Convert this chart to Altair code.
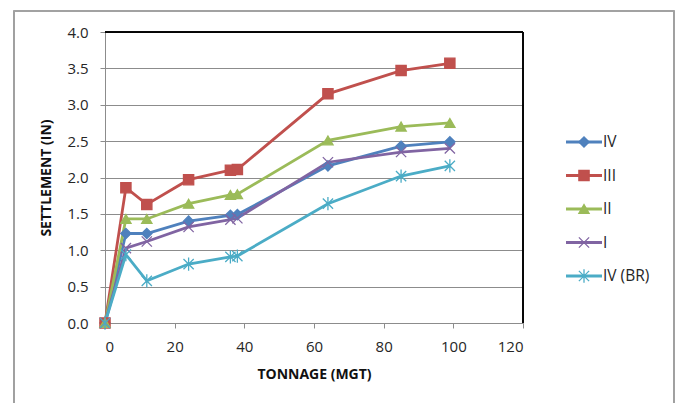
import altair as alt
import pandas as pd

# ---- data ----
tonnage = [0, 6, 12, 24, 36, 38, 64, 85, 99]
series_names = ["IV", "III", "II", "I", "IV (BR)"]
s_iv = [0, 1.23, 1.23, 1.40, 1.48, 1.49, 2.16, 2.43, 2.49]
s_iii = [0, 1.86, 1.63, 1.97, 2.10, 2.11, 3.15, 3.47, 3.57]
s_ii = [0, 1.43, 1.43, 1.64, 1.76, 1.77, 2.51, 2.70, 2.75]
s_i = [0, 1.03, 1.12, 1.32, 1.42, 1.44, 2.21, 2.35, 2.40]
s_iv_br = [0, 0.94, 0.58, 0.81, 0.91, 0.92, 1.64, 2.02, 2.16]
x_ticks = [0, 20, 40, 60, 80, 100, 120]
y_ticks = [0, 0.5, 1.0, 1.5, 2.0, 2.5, 3.0, 3.5, 4.0]

colors = ["#4F81BD", "#C0504D", "#9BBB59", "#8064A2", "#4BACC6"]
shapes = ["diamond", "square", "triangle-up",
          "M-1,-1L1,1M-1,1L1,-1",
          "M-1,-1L1,1M-1,1L1,-1M0,-1.3L0,1.3"]

values = [s_iv, s_iii, s_ii, s_i, s_iv_br]
rows = []
for name, vals in zip(series_names, values):
    for t, v in zip(tonnage, vals):
        rows.append({"series": name, "tonnage": t, "settlement": v})
df = pd.DataFrame(rows)
legend_df = pd.DataFrame({"series": series_names})

FONT = "Open Sans"
GRID = "#8c8c8c"

color_scale = alt.Scale(domain=series_names, range=colors)
shape_scale = alt.Scale(domain=series_names, range=shapes)
x_scale = alt.Scale(domain=[0, 120], nice=False)
y_scale = alt.Scale(domain=[0, 4], nice=False)

x_axis = alt.Axis(values=x_ticks, format="d", grid=False, tickCount=7,
                  title="TONNAGE (MGT)", titlePadding=13,
                  labelPadding=11, tickSize=5)
y_axis = alt.Axis(values=y_ticks, format=".1f", grid=True, tickCount=9,
                  title="SETTLEMENT (IN)", titlePadding=13,
                  labelPadding=12, tickSize=5, labelOverlap=False)

x_enc = alt.X("tonnage:Q", scale=x_scale, axis=x_axis)
y_enc = alt.Y("settlement:Q", scale=y_scale, axis=y_axis)

base = alt.Chart(df)

frame = alt.Chart(legend_df).mark_rect(
    fill=None, stroke="#a0a0a0", strokeWidth=1.2, clip=False
).encode(x=alt.value(-91), x2=alt.value(569), y=alt.value(-21), y2=alt.value(380))

lines = base.mark_line(strokeWidth=2.8).encode(
    x=x_enc, y=y_enc,
    color=alt.Color("series:N", scale=color_scale, legend=None),
    detail="series:N",
)
points = base.mark_point(filled=True, size=105, opacity=1, strokeWidth=1.3).encode(
    x=x_enc, y=y_enc,
    color=alt.Color("series:N", scale=color_scale, legend=None),
    stroke=alt.Stroke("series:N", scale=color_scale, legend=None),
    shape=alt.Shape("series:N", scale=shape_scale, legend=None),
)
top_rule = alt.Chart(legend_df).mark_rule(color="#000000", strokeWidth=1).encode(
    y=alt.Y(datum=4, scale=y_scale, axis=y_axis),
    x=alt.X(datum=0, scale=x_scale, axis=x_axis), x2=alt.X2(datum=120))
right_rule = alt.Chart(legend_df).mark_rule(color="#000000", strokeWidth=1).encode(
    x=alt.X(datum=120, scale=x_scale, axis=x_axis),
    y=alt.Y(datum=0, scale=y_scale, axis=y_axis), y2=alt.Y2(datum=4))

main = alt.layer(frame, lines, points, top_rule, right_rule)

ly = alt.Y("series:N", scale=alt.Scale(type="point", domain=series_names,
                                        range=[110, 244], padding=0), axis=None)
leg_line = alt.Chart(legend_df).mark_rule(strokeWidth=2.8, clip=False).encode(
    y=ly, x=alt.value(461), x2=alt.value(497),
    color=alt.Color("series:N", scale=color_scale, legend=None))
leg_pt = alt.Chart(legend_df).mark_point(filled=True, size=105, opacity=1,
                                         strokeWidth=1.3, clip=False).encode(
    y=ly, x=alt.value(479),
    color=alt.Color("series:N", scale=color_scale, legend=None),
    stroke=alt.Stroke("series:N", scale=color_scale, legend=None),
    shape=alt.Shape("series:N", scale=shape_scale, legend=None))
leg_txt = alt.Chart(legend_df).mark_text(align="left", baseline="middle", font=FONT,
                                         fontSize=15.5, color="#262626",
                                         clip=False).encode(
    y=ly, x=alt.value(498), text="series:N")
legend = alt.layer(leg_line, leg_pt, leg_txt)

chart = alt.layer(main, legend).resolve_scale(y="independent").properties(
    width=418, height=291,
    autosize=alt.AutoSizeParams(type="none"),
    padding={"left": 105, "top": 32, "right": 153, "bottom": 80},
    background="white",
).configure_view(stroke=None).configure_axis(
    labelFont=FONT, labelFontSize=15, labelColor="#262626",
    titleFont=FONT, titleFontSize=14, titleFontWeight="bold", titleColor="#111111",
    domainColor=GRID, tickColor=GRID, gridColor=GRID,
    domainWidth=1, tickWidth=1, gridWidth=1,
)

chart.save("out.html", embed_options={"renderer": "svg", "actions": False})
